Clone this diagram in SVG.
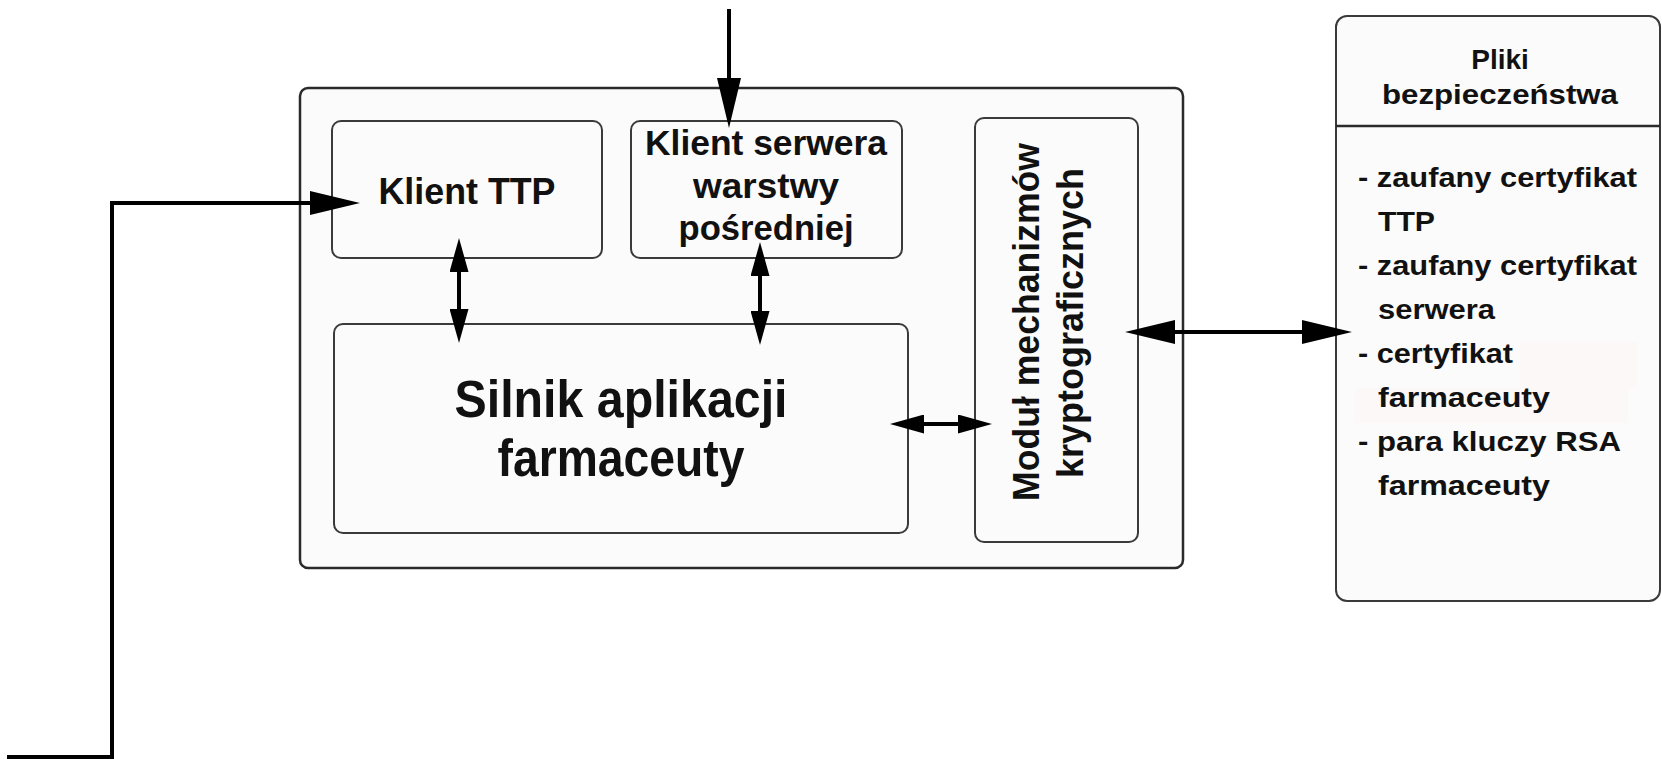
<svg xmlns="http://www.w3.org/2000/svg" width="1662" height="759" viewBox="0 0 1662 759">
  <style>
    .box { fill: #fcfbfb; stroke: #3a3a3a; stroke-width: 2; }
    .outer { fill: #fcfbfb; stroke: #2a2a2a; stroke-width: 2.5; }
    .lbl { font-family: "Liberation Sans", Arial, sans-serif; font-weight: bold; fill: #111; text-anchor: middle; }
    .list { font-family: "Liberation Sans", Arial, sans-serif; font-weight: bold; fill: #111; font-size: 28px; }
    .wire { fill: none; stroke: #000; stroke-width: 4; }
  </style>
  <defs>
    <!-- long arrowhead: 50 long, 24 wide; tip sits 10 past the line end -->
    <marker id="headBig" markerUnits="userSpaceOnUse" viewBox="0 0 50 24" markerWidth="50" markerHeight="24" refX="40" refY="12" orient="auto-start-reverse">
      <path d="M0,0 L50,12 L0,24 Z" fill="#000"/>
    </marker>
    <!-- short arrowhead for the inner two-way links -->
    <marker id="headSmall" markerUnits="userSpaceOnUse" viewBox="0 0 34 19" markerWidth="34" markerHeight="19" refX="26" refY="9.5" orient="auto-start-reverse">
      <path d="M0,0 L34,9.5 L0,19 Z" fill="#000"/>
    </marker>
  </defs>

  <rect width="1662" height="759" fill="#fff"/>

  <!-- application container -->
  <g id="app">
    <rect class="outer" x="300" y="88" width="883" height="480" rx="8"/>
  </g>

  <g id="klient-ttp">
    <rect class="box" x="332" y="121" width="270" height="137" rx="9"/>
    <text class="lbl" x="467" y="204" font-size="36" textLength="177" lengthAdjust="spacingAndGlyphs">Klient TTP</text>
  </g>

  <g id="klient-serwera">
    <rect class="box" x="631" y="121" width="271" height="137" rx="9"/>
    <text class="lbl" x="766" y="155" font-size="35" textLength="242" lengthAdjust="spacingAndGlyphs">Klient serwera</text>
    <text class="lbl" x="766" y="198" font-size="35" textLength="146" lengthAdjust="spacingAndGlyphs">warstwy</text>
    <text class="lbl" x="766" y="240" font-size="35" textLength="175" lengthAdjust="spacingAndGlyphs">pośredniej</text>
  </g>

  <g id="silnik">
    <rect class="box" x="334" y="324" width="574" height="209" rx="9"/>
    <text class="lbl" x="621" y="417" font-size="51" textLength="333" lengthAdjust="spacingAndGlyphs">Silnik aplikacji</text>
    <text class="lbl" x="621" y="476" font-size="51" textLength="247" lengthAdjust="spacingAndGlyphs">farmaceuty</text>
  </g>

  <g id="modul">
    <rect class="box" x="975" y="118" width="163" height="424" rx="9"/>
    <text class="lbl" font-size="37" transform="translate(1039,322) rotate(-90)" textLength="358" lengthAdjust="spacingAndGlyphs">Moduł mechanizmów</text>
    <text class="lbl" font-size="37" transform="translate(1083,323) rotate(-90)" textLength="310" lengthAdjust="spacingAndGlyphs">kryptograficznych</text>
  </g>

  <g id="pliki">
    <rect class="box" x="1336" y="16" width="324" height="585" rx="11"/>
    <line x1="1336" y1="126" x2="1660" y2="126" stroke="#2a2a2a" stroke-width="2.5"/>
    <text class="lbl" x="1500" y="69" font-size="28">Pliki</text>
    <text class="lbl" x="1500" y="104" font-size="28" textLength="236" lengthAdjust="spacingAndGlyphs">bezpieczeństwa</text>
    <!-- faint tint behind the third entry -->
    <rect x="1520" y="342" width="117" height="46" fill="#fdf8f8"/>
    <rect x="1355" y="388" width="273" height="35" fill="#fdf8f8"/>
    <text class="list" x="1358" y="187" textLength="279" lengthAdjust="spacingAndGlyphs">- zaufany certyfikat</text>
    <text class="list" x="1378" y="231" textLength="57" lengthAdjust="spacingAndGlyphs">TTP</text>
    <text class="list" x="1358" y="275" textLength="279" lengthAdjust="spacingAndGlyphs">- zaufany certyfikat</text>
    <text class="list" x="1378" y="319" textLength="117" lengthAdjust="spacingAndGlyphs">serwera</text>
    <text class="list" x="1358" y="363" textLength="155" lengthAdjust="spacingAndGlyphs">- certyfikat</text>
    <text class="list" x="1378" y="407" textLength="172" lengthAdjust="spacingAndGlyphs">farmaceuty</text>
    <text class="list" x="1358" y="451" textLength="263" lengthAdjust="spacingAndGlyphs">- para kluczy RSA</text>
    <text class="list" x="1378" y="495" textLength="172" lengthAdjust="spacingAndGlyphs">farmaceuty</text>
  </g>

  <g id="connectors">
    <!-- incoming link from below-left to Klient TTP -->
    <path class="wire" d="M7,757 H112 V203 H350" marker-end="url(#headBig)"/>
    <!-- incoming link from above to Klient serwera -->
    <path class="wire" d="M729,9 V118" stroke-width="3" marker-end="url(#headBig)"/>
    <!-- Klient TTP <-> Silnik -->
    <path class="wire" d="M459,246 V335" stroke-width="5" marker-start="url(#headSmall)" marker-end="url(#headSmall)"/>
    <!-- Klient serwera <-> Silnik -->
    <path class="wire" d="M760,250 V337" stroke-width="5" marker-start="url(#headSmall)" marker-end="url(#headSmall)"/>
    <!-- Silnik <-> Moduł -->
    <path class="wire" d="M898,424 H984" marker-start="url(#headSmall)" marker-end="url(#headSmall)"/>
    <!-- Moduł <-> Pliki -->
    <path class="wire" d="M1135,332 H1342" stroke-width="3.5" marker-start="url(#headBig)" marker-end="url(#headBig)"/>
  </g>
</svg>
